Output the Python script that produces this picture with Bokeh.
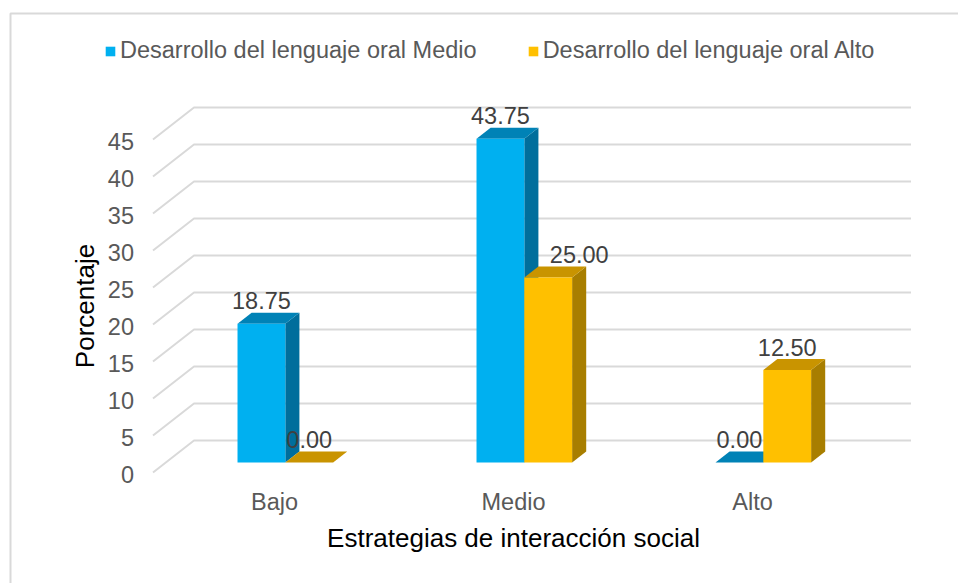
from bokeh.plotting import figure
from bokeh.models import ColumnDataSource, Range1d, Legend, LegendItem
from bokeh.core.properties import value
from bokeh.embed import file_html
from bokeh.resources import INLINE
import math

# ---------------- data ----------------
categories = ["Bajo", "Medio", "Alto"]
series_names = ["Desarrollo del lenguaje oral Medio", "Desarrollo del lenguaje oral Alto"]
medio_values = [18.75, 43.75, 0.00]
alto_values = [0.00, 25.00, 12.50]
y_ticks = [0, 5, 10, 15, 20, 25, 30, 35, 40, 45]
y_tick_labels = ["0", "5", "10", "15", "20", "25", "30", "35", "40", "45"]
x_title = "Estrategias de interacción social"
y_title = "Porcentaje"

# ---------------- layout / style ----------------
W, H = 958, 583
PX_PER_CAT = 239.0
PX_PER_UNIT = 7.4
ORIGIN_X = 272.0   # canvas px of category 0 on the front floor edge
ORIGIN_Y = 472.0   # canvas px of value 0 on the front floor edge
DX = 41.0 / PX_PER_CAT      # full depth, x (category units)
DY = 32.0 / PX_PER_UNIT     # full depth, y (value units)
D_FRONT = 10.0 / 32.0
D_BACK = 21.0 / 32.0
BAR_W = 0.2
X_WALL_LEFT = -0.5
X_WALL_RIGHT = 2.5

FONT = "Liberation Sans"
FS = "23.5px"
FS_TITLE = "26px"

face_colors = [
    {"front": "#00B0F0", "top": "#0082B6", "side": "#006E9C"},
    {"front": "#FFC000", "top": "#C99400", "side": "#A87E00"},
]
label_nudge_px = [[0, 0, 0], [0, 31, 0]]

x_range = Range1d(-ORIGIN_X / PX_PER_CAT, (W - ORIGIN_X) / PX_PER_CAT)
y_range = Range1d((ORIGIN_Y - H) / PX_PER_UNIT, ORIGIN_Y / PX_PER_UNIT)

p = figure(width=W, height=H, x_range=x_range, y_range=y_range,
           output_backend="svg", toolbar_location=None,
           x_axis_type=None, y_axis_type=None, min_border=0)
p.outline_line_color = None
p.background_fill_color = "white"
p.border_fill_color = "white"

# outer chart border (left & top visible)
bx = (10 - ORIGIN_X) / PX_PER_CAT
by = (ORIGIN_Y - 13) / PX_PER_UNIT
p.line([bx, bx, x_range.end + 1], [y_range.start - 1, by, by],
       line_color="#d9d9d9", line_width=2)

# gridlines: side wall diagonal + back wall horizontal
gx = [[X_WALL_LEFT, X_WALL_LEFT + DX, X_WALL_RIGHT + DX] for _ in y_ticks]
gy = [[v, v + DY, v + DY] for v in y_ticks]
p.multi_line(gx, gy, line_color="#d9d9d9", line_width=2)

# bars (3D)
ox_f, oy_f = D_FRONT * DX, D_FRONT * DY
ddx, ddy = (D_BACK - D_FRONT) * DX, (D_BACK - D_FRONT) * DY
all_series = [medio_values, alto_values]
front_renderers = []
for s, vals in enumerate(all_series):
    fx, fy, tx, ty, sx, sy = [], [], [], [], [], []
    for i, v in enumerate(vals):
        x0 = i + ox_f + (s - 1) * BAR_W
        x1 = x0 + BAR_W
        y0 = oy_f
        y1 = oy_f + v
        fx.append([x0, x1, x1, x0]); fy.append([y0, y0, y1, y1])
        tx.append([x0, x1, x1 + ddx, x0 + ddx]); ty.append([y1, y1, y1 + ddy, y1 + ddy])
        sx.append([x1, x1 + ddx, x1 + ddx, x1]); sy.append([y0, y0 + ddy, y1 + ddy, y1])
    c = face_colors[s]
    p.patches(sx, sy, fill_color=c["side"], line_color=None)
    p.patches(tx, ty, fill_color=c["top"], line_color=None)
    r = p.patches(fx, fy, fill_color=c["front"], line_color=None)
    front_renderers.append(r)

    # data labels
    lab = ColumnDataSource(dict(
        x=[i + ox_f + (s - 0.5) * BAR_W for i in range(len(vals))],
        y=[v + oy_f + ddy for v in vals],
        t=["%.2f" % v for v in vals],
        dx=label_nudge_px[s],
    ))
    p.text("x", "y", text="t", source=lab, x_offset="dx", y_offset=-12,
           text_align="center", text_baseline="alphabetic",
           text_font=value(FONT), text_font_size=FS, text_color="#404040")

# y tick labels
ysrc = ColumnDataSource(dict(x=[X_WALL_LEFT] * len(y_ticks), y=y_ticks, t=y_tick_labels))
p.text("x", "y", text="t", source=ysrc, x_offset=-19, y_offset=2,
       text_align="right", text_baseline="alphabetic",
       text_font=value(FONT), text_font_size=FS, text_color="#595959")

# category labels
csrc = ColumnDataSource(dict(x=list(range(len(categories))), y=[0] * len(categories), t=categories))
p.text("x", "y", text="t", source=csrc, x_offset=2, y_offset=29,
       text_align="center", text_baseline="alphabetic",
       text_font=value(FONT), text_font_size=FS, text_color="#595959")

# axis titles
p.text([(len(categories) - 1) / 2], [0], text=[x_title], x_offset=2, y_offset=65,
       text_align="center", text_baseline="alphabetic",
       text_font=value(FONT), text_font_size=FS_TITLE, text_color="#000000")
p.text([X_WALL_LEFT], [(y_ticks[0] + y_ticks[-1]) / 2], text=[y_title], x_offset=-68,
       angle=math.pi / 2, text_align="center", text_baseline="alphabetic",
       text_font=value(FONT), text_font_size=FS_TITLE, text_color="#000000")

# legend
legend = Legend(items=[LegendItem(label=series_names[k], renderers=[front_renderers[k]]) for k in range(2)],
                orientation="horizontal", location=(104, H - 64),
                glyph_width=12, glyph_height=12, label_standoff=4, spacing=50,
                padding=0, margin=0, border_line_color=None, background_fill_alpha=0,
                label_text_font=FONT, label_text_font_size=FS, label_text_color="#595959")
p.add_layout(legend)

open("out.html", "w").write(file_html(p, INLINE))
